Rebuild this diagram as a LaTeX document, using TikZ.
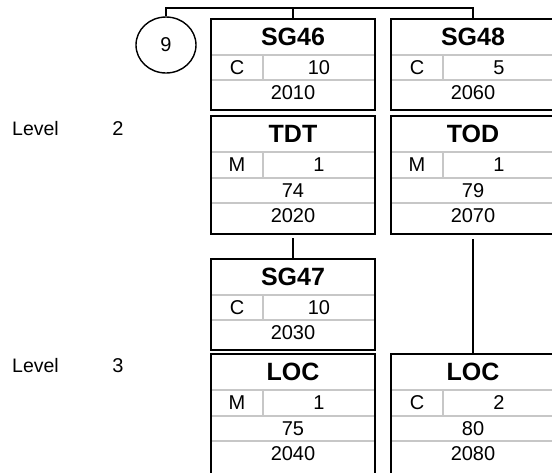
\documentclass[tikz,border=0pt]{standalone}
\usepackage{fontspec}
\setmainfont{Liberation Sans}
\usetikzlibrary{shapes.geometric}
\begin{document}
\begin{tikzpicture}[x=1pt,y=-1pt,
  segbox/.style={draw=black,line width=1.7pt,minimum width=164pt,inner sep=0pt,outer sep=0pt},
  sep/.style={draw=black!22,line width=1.4pt},
  conn/.style={draw=black,line width=1.4pt},
  ttl/.style={font=\bfseries\fontsize{25}{25}\selectfont,inner sep=0pt},
  txt/.style={font=\fontsize{20}{20}\selectfont,inner sep=0pt},
  lbl/.style={font=\fontsize{19.5}{19.5}\selectfont,inner sep=0pt,anchor=west},
  circ/.style={draw=black,line width=1.4pt,ellipse,minimum width=60pt,minimum height=56pt,inner sep=0pt}]
\useasboundingbox (0,0) rectangle (552,472);
\clip (0,0) rectangle (552,472);

% three-row box: name, cx, top, title, status, rep, number
\newcommand{\threebox}[7]{%
  \node[segbox,minimum height=91pt,anchor=north] (#1) at (#2,#3) {};
  \draw[sep] ([yshift=-36pt]#1.north west) -- ([yshift=-36pt]#1.north east);
  \draw[sep] ([yshift=-61pt]#1.north west) -- ([yshift=-61pt]#1.north east);
  \draw[sep] ([xshift=52pt,yshift=-36pt]#1.north west) -- ([xshift=52pt,yshift=-61pt]#1.north west);
  \node[ttl] (#1-t) at ([yshift=-18pt]#1.north) {#4};
  \node[txt] (#1-s) at ([xshift=26pt,yshift=-48.5pt]#1.north west) {#5};
  \node[txt] (#1-r) at ([xshift=108pt,yshift=-48.5pt]#1.north west) {#6};
  \node[txt] (#1-n) at ([yshift=-74pt]#1.north) {#7};
  \draw[segbox] (#1.north west) rectangle (#1.south east);
}
% four-row box: name, cx, top, title, status, rep, position, number, height
\newcommand{\fourbox}[9]{%
  \node[segbox,minimum height=#9pt,anchor=north] (#1) at (#2,#3) {};
  \draw[sep] ([yshift=-36pt]#1.north west) -- ([yshift=-36pt]#1.north east);
  \draw[sep] ([yshift=-62pt]#1.north west) -- ([yshift=-62pt]#1.north east);
  \draw[sep] ([yshift=-87pt]#1.north west) -- ([yshift=-87pt]#1.north east);
  \draw[sep] ([xshift=52pt,yshift=-36pt]#1.north west) -- ([xshift=52pt,yshift=-62pt]#1.north west);
  \node[ttl] (#1-t) at ([yshift=-18pt]#1.north) {#4};
  \node[txt] (#1-s) at ([xshift=26pt,yshift=-49pt]#1.north west) {#5};
  \node[txt] (#1-r) at ([xshift=108pt,yshift=-49pt]#1.north west) {#6};
  \node[txt] (#1-p) at ([yshift=-74.5pt]#1.north) {#7};
  \node[txt] (#1-n) at ([yshift=-100pt]#1.north) {#8};
  \draw[segbox] (#1.north west) rectangle (#1.south east);
}

\threebox{sgA}{293}{19}{SG46}{C}{10}{2010}
\threebox{sgB}{473}{19}{SG48}{C}{5}{2060}
\fourbox{tdt}{293}{116}{TDT}{M}{1}{74}{2020}{118}
\fourbox{tod}{473}{116}{TOD}{M}{1}{79}{2070}{118}
\threebox{sgC}{293}{259}{SG47}{C}{10}{2030}
\fourbox{locA}{293}{354}{LOC}{M}{1}{75}{2040}{124}
\fourbox{locB}{473}{354}{LOC}{C}{2}{80}{2080}{124}

\node[circ] (c9) at (166,45) {};
\node[txt] (c9t) at (c9.center) {9};

\node[lbl] (lv2) at (12,129) {Level};
\node[txt] (lv2n) at (118,129) {2};
\node[lbl] (lv3) at (12,366) {Level};
\node[txt] (lv3n) at (118,366) {3};

% connectors
\coordinate (top) at (166,8);
\draw[conn] (c9.north) -- (c9.north |- top) -- (sgB.north |- top) -- (sgB.north);
\draw[conn] (sgA.north |- top) -- (sgA.north);
\draw[conn] ([yshift=-4pt]tdt.south) -- ([yshift=1pt]sgC.north);
\draw[conn] ([yshift=-5pt]tod.south) -- (locB.north);
\end{tikzpicture}
\end{document}
